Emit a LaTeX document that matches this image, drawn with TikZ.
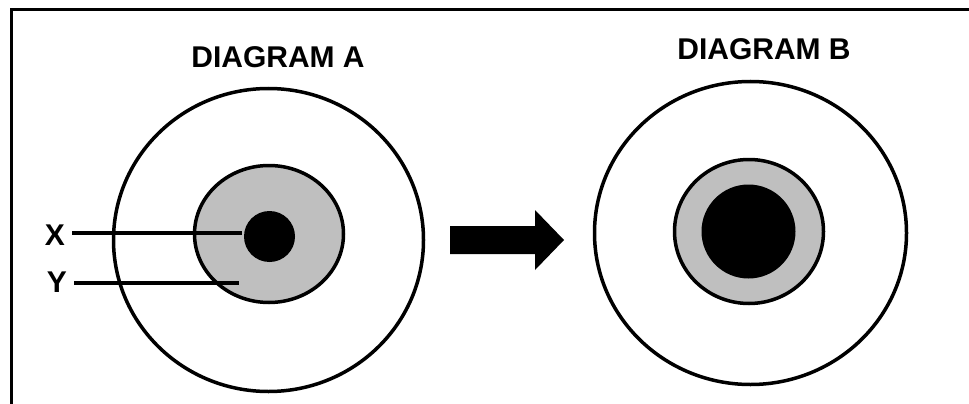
\documentclass[tikz,border=0pt]{standalone}
\usepackage{fontspec}
\setmainfont{Liberation Sans}
\usetikzlibrary{shapes.geometric}

\begin{document}
\begin{tikzpicture}[x=1pt,y=-1pt,line width=3.5pt,
    ring/.style={ellipse,draw,inner sep=0pt},
    title/.style={font=\fontsize{30}{36}\selectfont\bfseries},
    tag/.style={font=\fontsize{30}{36}\selectfont\bfseries}]
    \def \grey {black!25}
    \useasboundingbox (0,0) rectangle (969,404);
    % frame, cut at the right and at the bottom
    \draw[line width=3pt] (11,404) -- (11,10) -- (969,10);
    % diagram A
    \node[title] (titleA) at (278,57) {DIAGRAM A};
    \node[ring,minimum width=310,minimum height=303] (outerA) at (268.5,240) {};
    \node[ring,fill=\grey,minimum width=149,minimum height=137] (greyA) at (269,234) {};
    \node[circle,fill=black,inner sep=0pt,minimum size=51] (dotA) at (269.5,236.5) {};
    \node[tag] (labX) at (55,235.5) {X};
    \node[tag] (labY) at (57,282) {Y};
    \coordinate (endY) at (239,283);
    \draw (labX.east |- 0,233) ++(2,0) -- (dotA.west |- 0,233);
    \draw (labY.east |- endY) ++(2,0) -- (endY);
    % arrow
    \fill (450,226) -- (535,226) -- (535,210) -- (564,240) -- (535,270) -- (535,254) -- (450,254) -- cycle;
    % diagram B
    \node[title] (titleB) at (764,49) {DIAGRAM B};
    \node[ring,minimum width=312,minimum height=303] (outerB) at (750.5,233) {};
    \node[ring,fill=\grey,minimum width=149,minimum height=144] (greyB) at (749,231.5) {};
    \node[circle,fill=black,inner sep=0pt,minimum size=94] (dotB) at (748.5,231.5) {};
\end{tikzpicture}
\end{document}
